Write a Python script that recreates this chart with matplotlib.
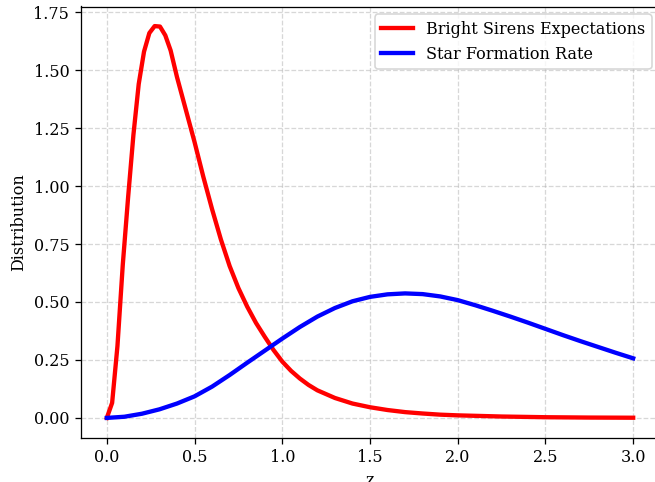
import matplotlib
matplotlib.use('Agg')
import matplotlib.pyplot as plt
import numpy as np

plt.rcParams['font.family'] = ['DejaVu Serif']

# Bright sirens expectation
z_bright = [0.0, 0.0303, 0.0606, 0.0909, 0.1212, 0.1515, 0.1818, 0.2121, 0.2424,
            0.2727, 0.3030, 0.3333, 0.3636, 0.40, 0.45, 0.50, 0.55, 0.60, 0.65,
            0.70, 0.75, 0.80, 0.85, 0.90, 0.95, 1.0, 1.05, 1.1, 1.15, 1.2, 1.3,
            1.4, 1.5, 1.6, 1.7, 1.8, 1.9, 2.0, 2.25, 2.5, 2.75, 3.0]
p_bright = [0.0, 0.065, 0.31, 0.66, 0.95, 1.22, 1.44, 1.58, 1.66,
            1.69, 1.688, 1.65, 1.585, 1.47, 1.33, 1.19, 1.04, 0.90, 0.77,
            0.655, 0.56, 0.48, 0.41, 0.35, 0.293, 0.243, 0.203, 0.170, 0.142,
            0.119, 0.086, 0.062, 0.046, 0.034, 0.025, 0.019, 0.014, 0.011,
            0.006, 0.003, 0.0015, 0.0008]

# Star formation rate distribution
z_sfr = [0.0, 0.1, 0.2, 0.3, 0.4, 0.5, 0.6, 0.7, 0.8, 0.9, 1.0, 1.1, 1.2, 1.3,
         1.4, 1.5, 1.6, 1.7, 1.8, 1.9, 2.0, 2.1, 2.2, 2.3, 2.4, 2.5, 2.6, 2.7,
         2.8, 2.9, 3.0]
p_sfr = [0.0, 0.005, 0.018, 0.037, 0.062, 0.093, 0.135, 0.185, 0.238, 0.290,
         0.342, 0.392, 0.437, 0.474, 0.503, 0.522, 0.533, 0.537, 0.534, 0.524,
         0.508, 0.486, 0.462, 0.437, 0.411, 0.384, 0.357, 0.331, 0.306, 0.281,
         0.257]

DPI = 115
fig = plt.figure(figsize=(655 / DPI, 482 / DPI), dpi=DPI)
ax = fig.add_axes([80.5 / 655, 44.5 / 482, 579 / 655, 431 / 482])

ax.plot(z_bright, p_bright, color='red', linewidth=2.7, label='Bright Sirens Expectations')
ax.plot(z_sfr, p_sfr, color='blue', linewidth=2.7, label='Star Formation Rate')

ax.set_xlabel('z')
ax.set_ylabel('Distribution')
ax.grid(True, linestyle='--', alpha=0.5)
ax.legend(loc='upper right')

fig.savefig('out.png', dpi=DPI)
